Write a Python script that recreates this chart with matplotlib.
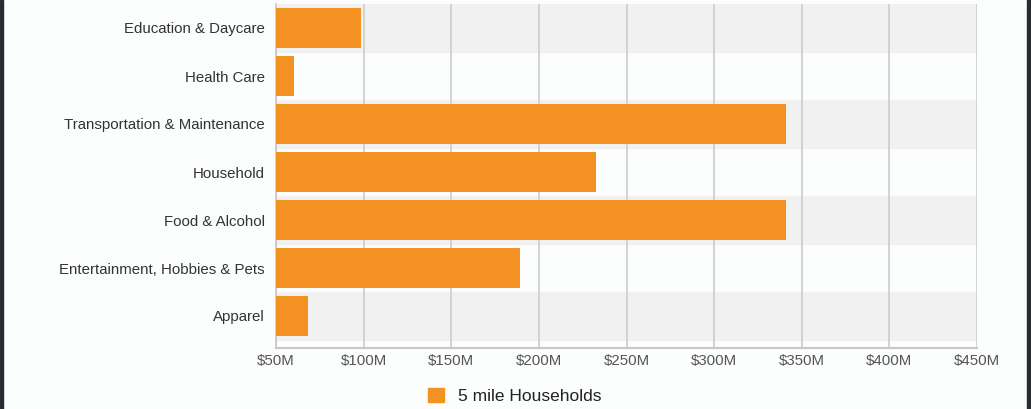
import matplotlib.pyplot as plt
from matplotlib.patches import Rectangle

# Data
categories = ['Education & Daycare', 'Health Care', 'Transportation & Maintenance',
              'Household', 'Food & Alcohol', 'Entertainment, Hobbies & Pets', 'Apparel']
values = [98.5, 60.5, 341, 232.5, 341, 189, 68]  # $M
ticks = [50, 100, 150, 200, 250, 300, 350, 400, 450]
tick_labels = ['$50M', '$100M', '$150M', '$200M', '$250M', '$300M', '$350M', '$400M', '$450M']
series_name = '5 mile Households'

plt.rcParams['font.family'] = ['Liberation Sans', 'DejaVu Sans']

fig = plt.figure(figsize=(10.31, 4.09), dpi=100, facecolor='#fcfdfd')
ax = fig.add_axes([276 / 1031, 1 - 348 / 409, 701 / 1031, 344 / 409])
ax.set_facecolor('#fcfdfd')

n = len(categories)
ypos = list(range(n))

# alternating row bands
for i in ypos:
    if i % 2 == 0:
        ax.axhspan(i - 0.5, i + 0.5, color='#f1f1f1', zorder=0)

ax.barh(ypos, [v - 50 for v in values], left=50, height=0.82, color='#f39123', zorder=3)

ax.set_xlim(50, 450)
ax.set_ylim(n - 0.5 + 8 / 48, -0.5)
ax.set_xticks(ticks)
ax.set_xticklabels(tick_labels, fontsize=10.8, color='#555555')
ax.set_yticks(ypos)
ax.set_yticklabels(categories, fontsize=10.8, color='#333333')
ax.tick_params(axis='x', length=0, pad=4)
ax.tick_params(axis='y', length=0, pad=8)

for t in ticks:
    ax.axvline(t, color='#cccccc', linewidth=1.2, zorder=1)

for s in ['top', 'right']:
    ax.spines[s].set_visible(False)
ax.spines['left'].set_color('#c8c8c8')
ax.spines['bottom'].set_color('#c8c8c8')
ax.spines['left'].set_linewidth(1.2)
ax.spines['bottom'].set_linewidth(1.5)

# legend
fig.legend([Rectangle((0, 0), 1, 1, color='#f39123')], [series_name],
           loc='center', bbox_to_anchor=(515 / 1031, 1 - 396 / 409),
           frameon=False, fontsize=12.5, handlelength=0.9, handleheight=0.9,
           handletextpad=0.8, labelcolor='#222222')

# dark page edges
fig.patches.append(Rectangle((0, 0), 3 / 1031, 1, transform=fig.transFigure,
                             color='#2a2a33', zorder=10))
fig.patches.append(Rectangle((1027 / 1031, 0), 4 / 1031, 1, transform=fig.transFigure,
                             color='#2a2a33', zorder=10))

fig.savefig('out.png', dpi=100, facecolor=fig.get_facecolor())
